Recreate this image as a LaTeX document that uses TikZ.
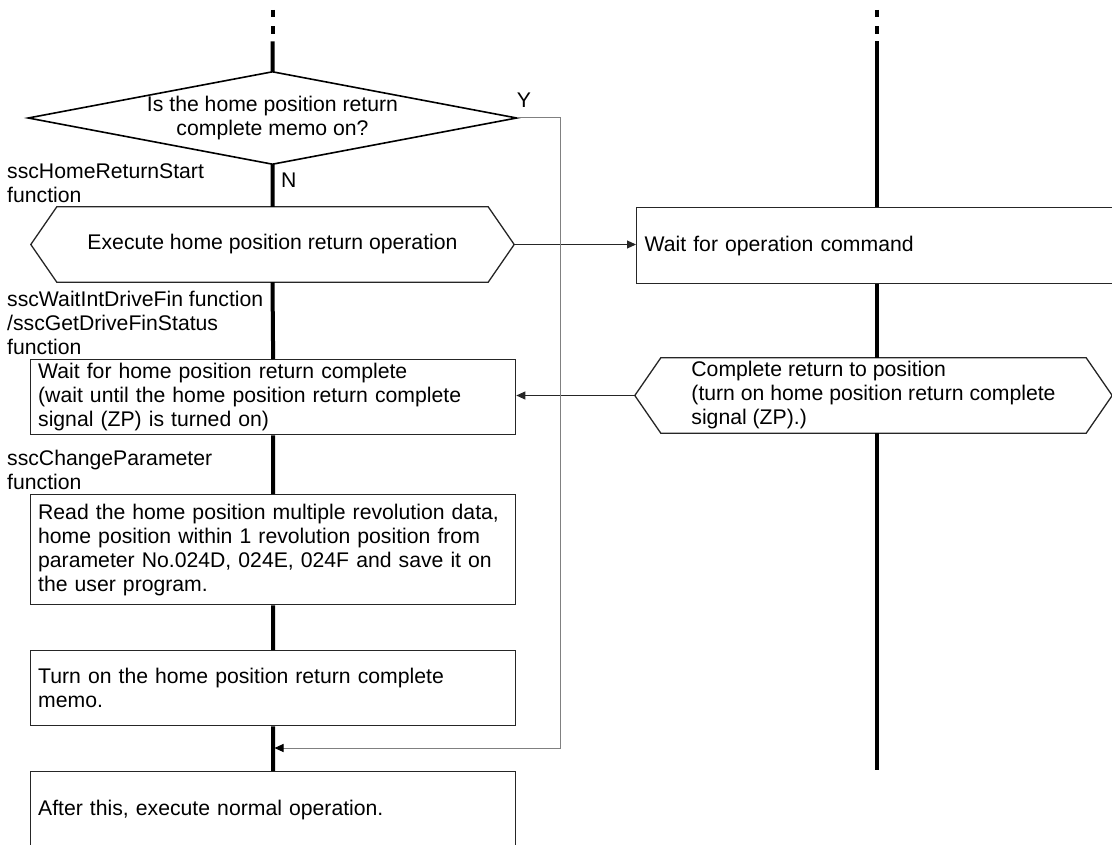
\documentclass[tikz,border=0pt]{standalone}
\usepackage{fontspec}
\setmainfont{Liberation Sans}
\usetikzlibrary{arrows.meta}

\begin{document}
\begin{tikzpicture}[
    x=1pt, y=-1pt,
    every node/.style={font=\fontsize{21.2}{24}\selectfont, inner sep=0pt},
    >={Triangle[length=9pt, width=8pt]},
    lifeline/.style={line width=4pt, black},
    outline/.style={draw=black!85, line width=1.3pt},
    box/.style={outline, anchor=north west, text width=470pt, inner xsep=7.5pt, align=left},
    flow/.style={->, line width=1pt, black!85},
    ypath/.style={-{Triangle[length=9pt, width=8pt, black]}, line width=1pt, black!50},
    fnlabel/.style={anchor=west, align=left}
]

% Parameters
\def\xL{272.5}
\def\xR{877}
\def\chamfer{26pt}

\clip (0,0) rectangle (1112,845);

% === Lifeline ends ===
\coordinate (ldash) at (\xL,10);
\coordinate (ltop) at (\xL,41.5);
\coordinate (rdash) at (\xR,10);
\coordinate (rtop) at (\xR,41.5);
\coordinate (rend) at (\xR,770);

% === Decision (home position return complete memo) ===
\node[minimum width=488pt, minimum height=92pt, align=center] (memo) at (\xL,118)
    {Is the home position return\\complete memo on?};
\draw[outline, draw=black, line width=1.6pt]
    (memo.west) -- (memo.north) -- (memo.east) -- (memo.south) -- cycle;
\node (yes) at (524,100) {Y};
\node[anchor=west] (no) at (281,180) {N};

% === Left column ===
\node[minimum width=483pt, minimum height=75pt] (exec) at (\xL,244.5)
    {Execute home position return operation};
\draw[outline]
    (exec.west) -- ([xshift=\chamfer]exec.north west) -- ([xshift=-\chamfer]exec.north east)
    -- (exec.east) -- ([xshift=-\chamfer]exec.south east) -- ([xshift=\chamfer]exec.south west) -- cycle;

\node[box, minimum height=75pt] (waitzp) at (30,359)
    {Wait for home position return complete\\(wait until the home position return complete\\signal (ZP) is turned on)};
\node[box, minimum height=110pt] (readpar) at (30,494)
    {Read the home position multiple revolution data,\\home position within 1 revolution position from\\parameter No.024D, 024E, 024F and save it on\\the user program.\\[-6pt]};
\node[box, minimum height=75pt] (memomark) at (30,650)
    {Turn on the home position return complete\\memo.};
\node[box, minimum height=76pt] (normal) at (30,771)
    {After this, execute normal operation.};

% function names
\node[fnlabel] (lbstart) at (7,183.5) {sscHomeReturnStart\\function};
\node[fnlabel] (lbwait) at (7,323) {sscWaitIntDriveFin function\\/sscGetDriveFinStatus\\function};
\node[fnlabel] (lbparam) at (7,470) {sscChangeParameter\\function};

% === Right column ===
\node[box, text width=584pt, inner xsep=8pt, minimum height=76pt] (waitcmd) at (636,207)
    {Wait for operation command};

\node[minimum width=477pt, minimum height=75pt, align=left] (done) at (873.5,395.5)
    {Complete return to position\\(turn on home position return complete\\signal (ZP).)};
\draw[outline]
    (done.west) -- ([xshift=\chamfer]done.north west) -- ([xshift=-\chamfer]done.north east)
    -- (done.east) -- ([xshift=-\chamfer]done.south east) -- ([xshift=\chamfer]done.south west) -- cycle;

% === Lifelines ===
\draw[lifeline, dash pattern=on 7.5pt off 9pt] (ldash) -- (ltop);
\draw[lifeline] (ltop) -- (memo.north)
    (memo.south) -- (exec.north)
    (exec.south) -- (waitzp.north)
    (waitzp.south) -- (readpar.north)
    (readpar.south) -- (memomark.north)
    (memomark.south) -- (normal.north);
\draw[lifeline, dash pattern=on 7.5pt off 9pt] (rdash) -- (rtop);
\draw[lifeline] (rtop) -- (rtop |- waitcmd.north)
    (rtop |- waitcmd.south) -- (rtop |- done.north)
    (rtop |- done.south) -- (rend);

% === Signals ===
\draw[flow] (exec.east) -- (exec.east -| waitcmd.west);
\draw[flow] (done.west) -- (done.west -| waitzp.east);

% Y branch back to main line
\coordinate (ybend) at (560,748);
\coordinate (join) at (274.5,748);
\draw[ypath] (memo.east) -| (ybend) -- (join);

\end{tikzpicture}
\end{document}
